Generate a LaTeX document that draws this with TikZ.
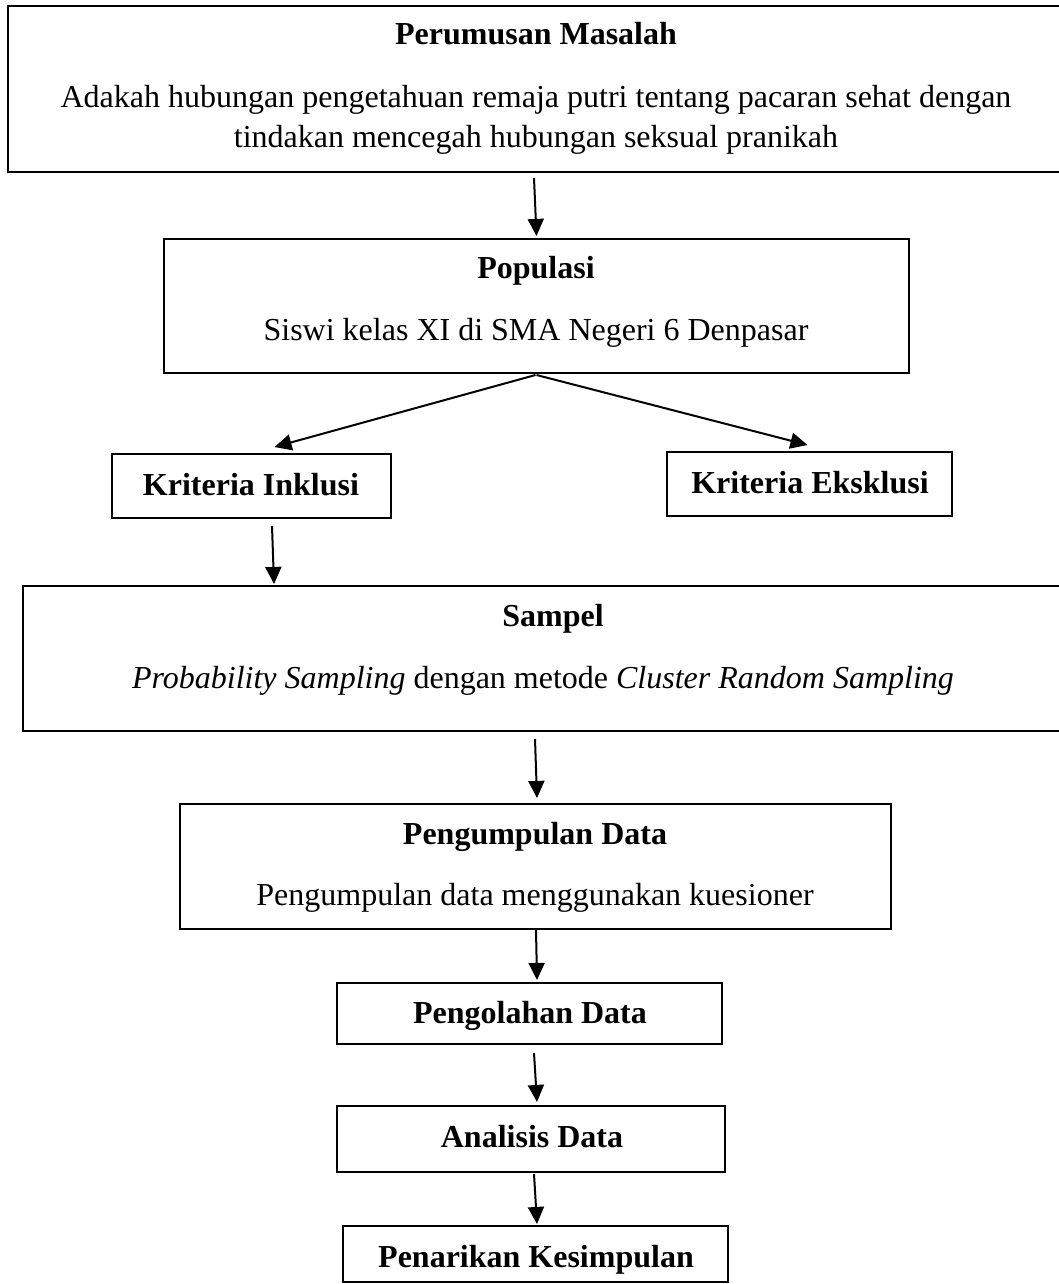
\documentclass[tikz,border=0pt]{standalone}
\usepackage{fontspec}
\setmainfont{Liberation Serif}
\usetikzlibrary{arrows.meta,calc,fit}
\begin{document}
\begin{tikzpicture}[x=0.375pt,y=-0.375pt,
  box/.style={draw,line width=0.75pt,rectangle,inner sep=0pt},
  lbl/.style={anchor=base,inner sep=0pt,font=\fontsize{12}{15}\selectfont},
  ttl/.style={lbl,font=\fontsize{12}{15}\selectfont\bfseries},
  arr/.style={line width=0.75pt,-{Triangle[length=6.4pt,width=6pt]}}]
\useasboundingbox (0,0) rectangle (1058,1284);
% boxes
\node[box,fit={(8,6)(1064,172)}] (p1) {};
\node[box,fit={(164,239)(909,373)}] (pop) {};
\node[box,fit={(112,454)(391,518)}] (inc) {};
\node[box,fit={(667,452)(952,516)}] (exc) {};
\node[box,fit={(23,586)(1064,731)}] (samp) {};
\node[box,fit={(180,804)(891,929)}] (kump) {};
\node[box,fit={(337,983)(722,1044)}] (olah) {};
\node[box,fit={(337,1106)(725,1172)}] (anal) {};
\node[box,fit={(343,1226)(728,1282)}] (tarik) {};
% texts
\node[ttl] (t1) at (536,45) {Perumusan Masalah};
\node[lbl] (t1a) at (536,107) {Adakah hubungan pengetahuan remaja putri tentang pacaran sehat dengan};
\node[lbl] (t1b) at (536,147) {tindakan mencegah hubungan seksual pranikah};
\node[ttl] (t2) at (536,278) {Populasi};
\node[lbl] (t2a) at (536,340) {Siswi kelas XI di SMA Negeri 6 Denpasar};
\node[ttl] (t3) at (251,495) {Kriteria Inklusi};
\node[ttl] (t4) at (810,493) {Kriteria Eksklusi};
\node[ttl] (t5) at (553,626) {Sampel};
\node[lbl] (t5a) at (543,688) {\textit{Probability Sampling} dengan metode \textit{Cluster Random Sampling}};
\node[ttl] (t6) at (535,844) {Pengumpulan Data};
\node[lbl] (t6a) at (535,905) {Pengumpulan data menggunakan kuesioner};
\node[ttl] (t7) at (530,1023) {Pengolahan Data};
\node[ttl] (t8) at (532,1147) {Analisis Data};
\node[ttl] (t9) at (536,1267) {Penarikan Kesimpulan};
% connectors
\draw[arr] ($(p1.south)+(-2,5)$) -- ($(pop.north)+(0,-2)$);
\draw[arr] ($(pop.south)+(-1,1)$) -- ($(inc.north)+(23,-6)$);
\draw[arr] ($(pop.south)+(0,1)$) -- ($(exc.north)+(-2,-6)$);
\draw[arr] ($(inc.south)+(20.5,7)$) -- ($(inc.south |- samp.north)+(22.5,-1)$);
\draw[arr] ($(samp.south)+(-8.5,7)$) -- ($(kump.north)+(1.5,-5)$);
\draw[arr] ($(kump.south)+(0.5,0)$) -- ($(olah.north)+(7.5,-2)$);
\draw[arr] ($(olah.south)+(4.5,8)$) -- ($(anal.north)+(6,-3)$);
\draw[arr] ($(anal.south)+(3,1)$) -- ($(tarik.north)+(1.5,-1)$);
\end{tikzpicture}
\end{document}
